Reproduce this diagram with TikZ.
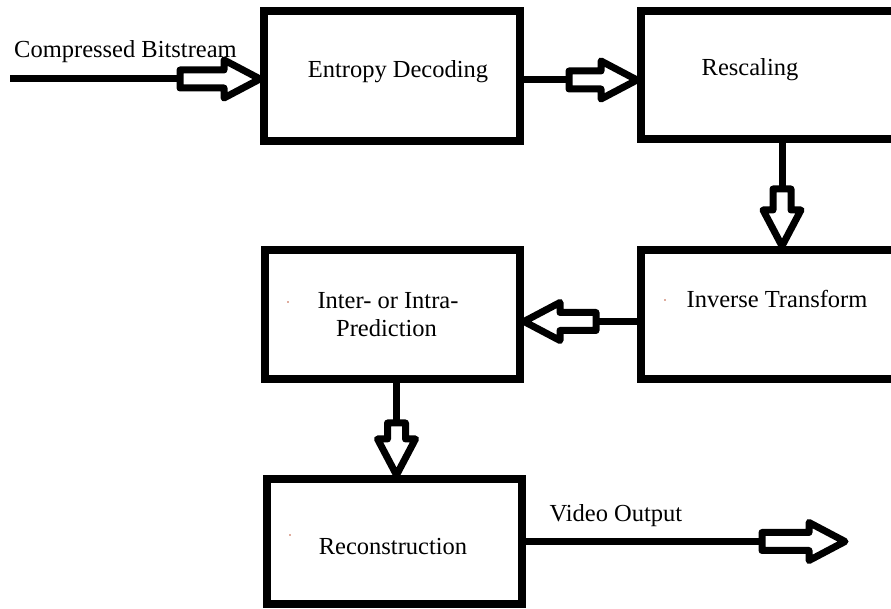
\documentclass[tikz,border=0pt]{standalone}
\usepackage{fontspec}
\setmainfont{Liberation Serif}
\definecolor{dotc}{RGB}{190,90,60}
\begin{document}
\begin{tikzpicture}[x=1pt,y=1pt,
  box/.style={draw=black, line width=8pt, inner sep=0pt},
  conn/.style={draw=black, line width=7pt},
  arrowbody/.style={draw=black, fill=white, line width=7pt, line join=round},
  lbl/.style={font=\fontsize{24.5}{29}\selectfont, inner sep=0pt, text=black},
  pics/barrow/.style={code={
    \draw[arrowbody] (-#1,9) -- (-36,9) -- (-36,19) -- (0,0) -- (-36,-19) -- (-36,-9) -- (-#1,-9) -- cycle;
  }}
]
\useasboundingbox (0,0) rectangle (891,609);

% boxes
\node[box, minimum width=256, minimum height=130] (ent)  at (392,533)     {};
\node[box, minimum width=282, minimum height=128] (resc) at (782,534)     {};
\node[box, minimum width=282, minimum height=129] (inv)  at (782,294.5)   {};
\node[box, minimum width=255, minimum height=129] (pred) at (392.5,294.5) {};
\node[box, minimum width=255, minimum height=125] (rec)  at (394.5,67.5)  {};

% labels
\node[lbl, anchor=base west] (lsrc) at (14,551)  {Compressed Bitstream};
\node[lbl, anchor=base] (lent)  at (398,531)     {Entropy Decoding};
\node[lbl, anchor=base] (lresc) at (750,533)     {Rescaling};
\node[lbl, anchor=base] (linv)  at (777,301)     {Inverse Transform};
\node[lbl, anchor=base] (lp1)   at (388,300)     {Inter- or Intra-};
\node[lbl, anchor=base] (lp2)   at (386.5,272)   {Prediction};
\node[lbl, anchor=base] (lrec)  at (393,54)      {Reconstruction};
\node[lbl, anchor=base] (lout)  at (616,87)      {Video Output};

% tiny dots
\fill[dotc] (288,307) circle (0.9);
\fill[dotc] (665,309) circle (0.9);
\fill[dotc] (290,74) circle (0.9);

% connectors
\coordinate (src) at (10,530);
\draw[conn] (src) -- (src -| ent.west);
\pic at (src -| ent.west) {barrow=80};

\coordinate (e1) at ([yshift=-4pt]ent.east);
\draw[conn] (e1) -- (e1 -| resc.west);
\pic at (e1 -| resc.west) {barrow=68};

\draw[conn] (resc.south) -- (inv.north);
\pic[rotate=-90] at (inv.north) {barrow=57};

\coordinate (i1) at ([yshift=-7pt]inv.west);
\draw[conn] (i1) -- (i1 -| pred.east);
\pic[rotate=180] at (i1 -| pred.east) {barrow=72};

\coordinate (p1) at ([xshift=4pt]pred.south);
\draw[conn] (p1) -- (p1 |- rec.north);
\pic[rotate=-90] at (p1 |- rec.north) {barrow=52};

\coordinate (out) at (845,67.5);
\draw[conn] (rec.east) -- (out);
\pic at (out) {barrow=83};
\end{tikzpicture}
\end{document}
